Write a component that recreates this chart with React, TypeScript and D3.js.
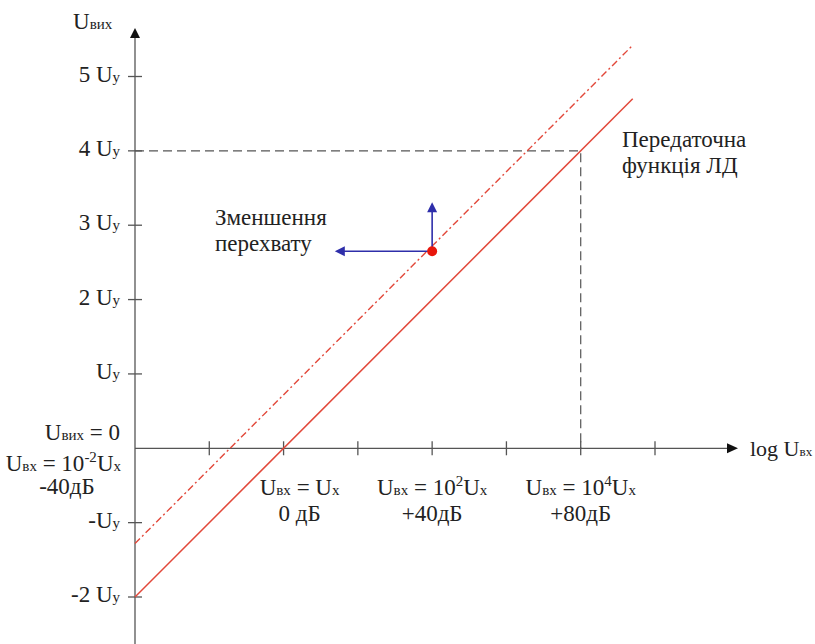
import React, { useEffect, useRef } from "react";
import * as d3 from "d3";

// горизонтальна вісь: log Uвх у дБ, поділки через 20 дБ
const xTicks = [-20, 0, 20, 40, 60, 80, 100];
// вертикальна вісь: Uвих в одиницях Uy
const yTicks = [-2, -1, 1, 2, 3, 4, 5];
const yTickPrefix = ["-2 ", "-", "", "2 ", "3 ", "4 ", "5 "];

// передаточна функція ЛД (дБ, Uy)
const transferLine: [number, number][] = [[-40, -2], [94, 4.7]];
// та сама функція після зменшення перехвату
const shiftedLine: [number, number][] = [[-40, -1.28], [94, 5.42]];
// робоча точка і стрілки зсуву
const workPoint: [number, number] = [40, 2.65];
const arrowUp: [number, number] = [40, 3.31];
const arrowLeft: [number, number] = [13.8, 2.65];
// пунктирна проекція
const guidePoint: [number, number] = [80, 4];

// підписи під віссю x
const xLabelDb = [0, 40, 80];
const xLabelPower = ["", "2", "4"];
const xLabelDbText = ["0 дБ", "+40дБ", "+80дБ"];

const FONT = "'Liberation Serif', 'DejaVu Serif', serif";
const FS = 23;
const SMALL = 15;

type Part = { t: string; k?: "sub" | "sup" };

const App = () => {
  const svgRef = useRef<SVGSVGElement | null>(null);

  useEffect(() => {
    const width = 815;
    const height = 644;

    const x = d3.scaleLinear().domain([-40, 100]).range([135, 655]);
    const y = d3.scaleLinear().domain([-2, 5]).range([597, 76.5]);

    const svg = d3.select(svgRef.current)
      .attr("width", width)
      .attr("height", height);
    svg.selectAll("*").remove();

    const x0 = x(-40);
    const y0 = y(0);

    // текст з дрібними індексами
    const rich = (parts: Part[], px: number, py: number, anchor = "start", fs = FS, small = SMALL) => {
      const t = svg.append("text")
        .attr("x", px)
        .attr("y", py)
        .attr("text-anchor", anchor)
        .attr("font-family", FONT)
        .attr("font-size", fs)
        .attr("fill", "#222");
      let raised = false;
      parts.forEach((p) => {
        const s = t.append("tspan").text(p.t);
        if (p.k === "sub" || p.k === "sup") s.attr("font-size", small);
        if (p.k === "sup") {
          s.attr("dy", -9);
          raised = true;
        } else if (raised) {
          s.attr("dy", 9);
          raised = false;
        }
      });
      return t;
    };

    // осі
    svg.append("line")
      .attr("x1", x0).attr("x2", x0)
      .attr("y1", height).attr("y2", 36)
      .attr("stroke", "#555").attr("stroke-width", 1.3);
    svg.append("path")
      .attr("d", `M${x0},28 L${x0 - 5},38 L${x0 + 5},38 Z`)
      .attr("fill", "#111");

    svg.append("line")
      .attr("x1", x0).attr("x2", 730)
      .attr("y1", y0).attr("y2", y0)
      .attr("stroke", "#555").attr("stroke-width", 1.3);
    svg.append("path")
      .attr("d", `M738,${y0} L727,${y0 - 5} L727,${y0 + 5} Z`)
      .attr("fill", "#111");

    svg.selectAll(".xtick")
      .data(xTicks)
      .enter()
      .append("line")
      .attr("class", "xtick")
      .attr("x1", (d) => x(d)).attr("x2", (d) => x(d))
      .attr("y1", y0 - 7).attr("y2", y0 + 7)
      .attr("stroke", "#555").attr("stroke-width", 1.3);

    svg.selectAll(".ytick")
      .data(yTicks)
      .enter()
      .append("line")
      .attr("class", "ytick")
      .attr("x1", x0 - 7).attr("x2", x0 + 7)
      .attr("y1", (d) => y(d)).attr("y2", (d) => y(d))
      .attr("stroke", "#555").attr("stroke-width", 1.3);

    yTicks.forEach((d, i) => {
      rich([{ t: yTickPrefix[i] + "U" }, { t: "y", k: "sub" }], 120, y(d) + 5, "end");
    });

    // пунктирні проекції
    const gx = x(guidePoint[0]);
    const gy = y(guidePoint[1]);
    svg.append("path")
      .attr("d", `M${x0},${gy} L${gx},${gy} L${gx},${y0}`)
      .attr("fill", "none")
      .attr("stroke", "#555")
      .attr("stroke-width", 1.2)
      .attr("stroke-dasharray", "9 5");

    // лінії передаточної функції
    const line = d3.line<[number, number]>()
      .x((d) => x(d[0]))
      .y((d) => y(d[1]));

    svg.append("path")
      .attr("d", line(shiftedLine))
      .attr("fill", "none")
      .attr("stroke", "#e2483a")
      .attr("stroke-width", 1.4)
      .attr("stroke-dasharray", "7 3 2 3");

    svg.append("path")
      .attr("d", line(transferLine))
      .attr("fill", "none")
      .attr("stroke", "#e2483a")
      .attr("stroke-width", 1.5);

    // стрілки зсуву
    const blue = "#2e2eaa";
    const px = x(workPoint[0]);
    const py = y(workPoint[1]);
    const ux = x(arrowUp[0]);
    const uy = y(arrowUp[1]);
    const lx = x(arrowLeft[0]);
    const ly = y(arrowLeft[1]);
    svg.append("line")
      .attr("x1", px).attr("y1", py).attr("x2", ux).attr("y2", uy + 8)
      .attr("stroke", blue).attr("stroke-width", 1.6);
    svg.append("path")
      .attr("d", `M${ux},${uy} L${ux - 5},${uy + 10} L${ux + 5},${uy + 10} Z`)
      .attr("fill", blue);
    svg.append("line")
      .attr("x1", px).attr("y1", py).attr("x2", lx + 8).attr("y2", ly)
      .attr("stroke", blue).attr("stroke-width", 1.6);
    svg.append("path")
      .attr("d", `M${lx},${ly} L${lx + 10},${ly - 5} L${lx + 10},${ly + 5} Z`)
      .attr("fill", blue);

    svg.append("circle")
      .attr("cx", px).attr("cy", py).attr("r", 5)
      .attr("fill", "#e8160c");

    // підписи осей
    rich([{ t: "U" }, { t: "вих", k: "sub" }], 73, 29);
    rich([{ t: "log U" }, { t: "вх", k: "sub" }], 750, 456, "start", 22, 13);

    rich([{ t: "U" }, { t: "вих", k: "sub" }, { t: " = 0" }], 120, 440, "end");
    rich([{ t: "U" }, { t: "вх", k: "sub" }, { t: " = 10" }, { t: "-2", k: "sup" }, { t: "U" }, { t: "x", k: "sub" }], 121, 471, "end");
    rich([{ t: "-40дБ" }], 67, 494, "middle");

    xLabelDb.forEach((d, i) => {
      const cx = x(d) + (i === 0 ? 16 : 0);
      const parts: Part[] = i === 0
        ? [{ t: "U" }, { t: "вх", k: "sub" }, { t: " = U" }, { t: "x", k: "sub" }]
        : [{ t: "U" }, { t: "вх", k: "sub" }, { t: " = 10" }, { t: xLabelPower[i], k: "sup" }, { t: "U" }, { t: "x", k: "sub" }];
      rich(parts, cx, 495, "middle");
      rich([{ t: xLabelDbText[i] }], cx, 521, "middle");
    });

    rich([{ t: "Передаточна" }], 622, 147);
    rich([{ t: "функція ЛД" }], 622, 173);
    rich([{ t: "Зменшення" }], 215, 225);
    rich([{ t: "перехвату" }], 215, 251);
  }, []);

  return (
    <svg
      ref={svgRef}
      style={{ position: "absolute", left: 0, top: 0, background: "#fff" }}
    ></svg>
  );
};

export default App;
